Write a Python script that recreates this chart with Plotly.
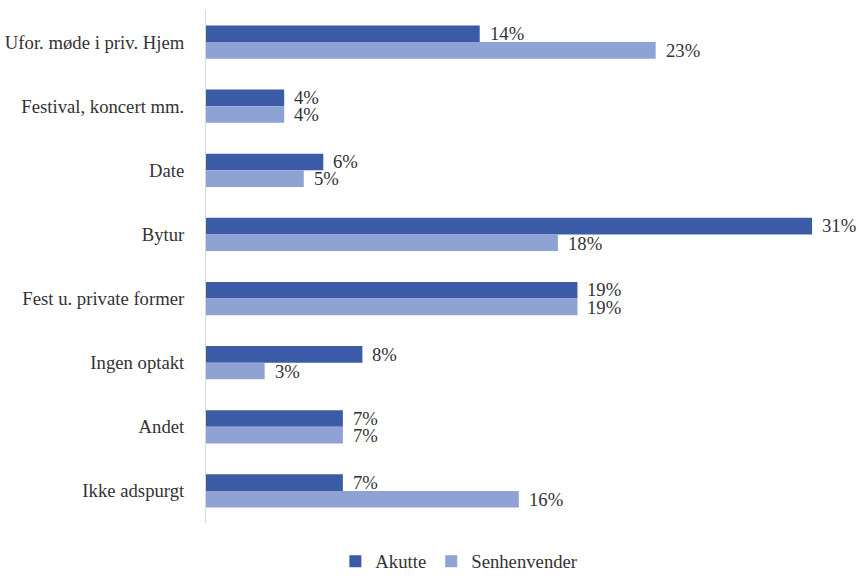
import plotly.graph_objects as go

categories = [
    "Ufor. møde i priv. Hjem",
    "Festival, koncert mm.",
    "Date",
    "Bytur",
    "Fest u. private former",
    "Ingen optakt",
    "Andet",
    "Ikke adspurgt",
]
akutte = [14, 4, 6, 31, 19, 8, 7, 7]
senhenvender = [23, 4, 5, 18, 19, 3, 7, 16]

series = [
    ("Akutte", akutte, "#3B5BA7"),
    ("Senhenvender", senhenvender, "#8FA2D4"),
]

FONT = "Liberation Serif, Times New Roman, serif"
TEXT = "#333333"
SIZE = 18.7

fig = go.Figure()
for name, vals, color in series:
    fig.add_trace(go.Bar(
        y=categories, x=vals, name=name, orientation="h",
        marker=dict(color=color, line=dict(width=0)),
    ))

# value labels next to each bar end
n = len(categories)
offsets = [-0.135, 0.135]
annotations = []
for k, (name, vals, color) in enumerate(series):
    for i, (cat, v) in enumerate(zip(categories, vals)):
        annotations.append(dict(
            x=v, y=i + offsets[k], xref="x", yref="y",
            text=f"{v}%", showarrow=False, xanchor="left", yanchor="middle",
            xshift=8, font=dict(family=FONT, size=SIZE, color=TEXT),
        ))

fig.update_layout(
    width=859, height=581,
    margin=dict(l=206, r=0, t=10, b=48),
    plot_bgcolor="white", paper_bgcolor="white",
    barmode="group", bargap=0.48, bargroupgap=0,
    font=dict(family=FONT, size=SIZE, color=TEXT),
    showlegend=True,
    legend=dict(
        orientation="h", x=0.388, xanchor="center", y=-0.075, yanchor="middle",
        font=dict(family=FONT, size=SIZE, color=TEXT),
        itemwidth=30, tracegroupgap=0,
    ),
    annotations=annotations,
)
fig.update_xaxes(range=[0, 33.4], visible=False, showgrid=False, zeroline=False)
fig.update_yaxes(
    type="category", categoryorder="array", categoryarray=categories,
    range=[n - 0.5, -0.5],
    showline=True, linecolor="#d9d9d9", linewidth=1,
    ticks="", showgrid=False, ticklabelstandoff=17,
    tickfont=dict(family=FONT, size=SIZE, color=TEXT),
)

fig.write_html("out.html")
